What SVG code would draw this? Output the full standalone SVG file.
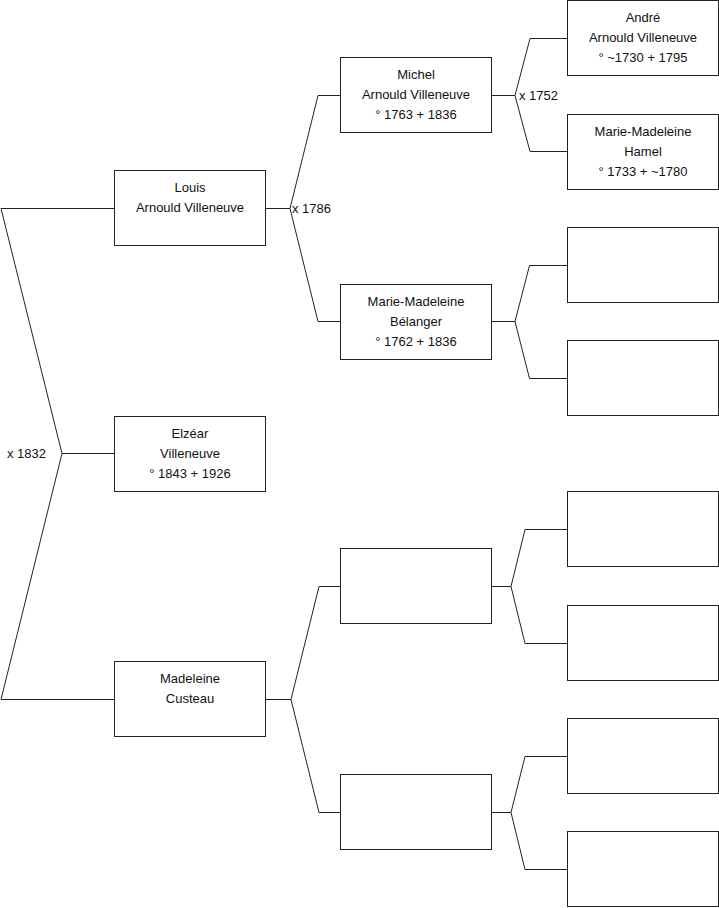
<svg xmlns="http://www.w3.org/2000/svg" width="719" height="908" viewBox="0 0 719 908">
<style>
.box{fill:#fff;stroke:#222;stroke-width:1}
.ln{fill:none;stroke:#222;stroke-width:1}
text{font-family:"Liberation Sans",Arial,sans-serif;font-size:13px;fill:#111}
.c{text-anchor:middle}
</style>
<rect width="719" height="908" fill="#fff"/>
<g id="connectors">
<polyline class="ln" points="114,208.5 1,208.5 62,453.5 1,699.5 114,699.5"/>
<line class="ln" x1="62" y1="453.5" x2="114" y2="453.5"/>
<polyline class="ln" points="265,208.5 290,208.5"/>
<polyline class="ln" points="340,95.5 318,95.5 290,208.5 318,321.5 340,321.5"/>
<polyline class="ln" points="265,699.5 291,699.5"/>
<polyline class="ln" points="340,586.5 319,586.5 291,699.5 319,812.5 340,812.5"/>
<polyline class="ln" points="491,95.5 515,95.5"/>
<polyline class="ln" points="567,38.5 530,38.5 515,95.5 530,151.5 567,151.5"/>
<polyline class="ln" points="491,321.5 515,321.5"/>
<polyline class="ln" points="567,265.5 529.5,265.5 515,321.5 529.5,378.5 567,378.5"/>
<polyline class="ln" points="491,586.5 511,586.5"/>
<polyline class="ln" points="567,529.5 525,529.5 511,586.5 525,643.5 567,643.5"/>
<polyline class="ln" points="491,812.5 511,812.5"/>
<polyline class="ln" points="567,756.5 525,756.5 511,812.5 525,869.5 567,869.5"/>
<text x="7" y="458">x 1832</text>
<text x="292" y="213">x 1786</text>
<text x="519" y="100">x 1752</text>
</g>
<g id="louis">
<rect class="box" x="114.5" y="170.5" width="151" height="75"/>
<text class="c" x="190" y="191.5">Louis</text>
<text class="c" x="190" y="211.5">Arnould Villeneuve</text>
</g>
<g id="elzear">
<rect class="box" x="114.5" y="416.5" width="151" height="75"/>
<text class="c" x="190" y="437.5">Elzéar</text>
<text class="c" x="190" y="457.5">Villeneuve</text>
<text class="c" x="190" y="477.5">° 1843 + 1926</text>
</g>
<g id="madeleine">
<rect class="box" x="114.5" y="661.5" width="151" height="75"/>
<text class="c" x="190" y="682.5">Madeleine</text>
<text class="c" x="190" y="702.5">Custeau</text>
</g>
<g id="michel">
<rect class="box" x="340.5" y="57.5" width="151" height="75"/>
<text class="c" x="416" y="78.5">Michel</text>
<text class="c" x="416" y="98.5">Arnould Villeneuve</text>
<text class="c" x="416" y="118.5">° 1763 + 1836</text>
</g>
<g id="belanger">
<rect class="box" x="340.5" y="284.5" width="151" height="75"/>
<text class="c" x="416" y="305.5">Marie-Madeleine</text>
<text class="c" x="416" y="325.5">Bélanger</text>
<text class="c" x="416" y="345.5">° 1762 + 1836</text>
</g>
<g id="empty-c2-1"><rect class="box" x="340.5" y="548.5" width="151" height="75"/></g>
<g id="empty-c2-2"><rect class="box" x="340.5" y="774.5" width="151" height="75"/></g>
<g id="andre">
<rect class="box" x="567.5" y="0.5" width="151" height="75"/>
<text class="c" x="643" y="21.5">André</text>
<text class="c" x="643" y="41.5">Arnould Villeneuve</text>
<text class="c" x="643" y="61.5">° ~1730 + 1795</text>
</g>
<g id="hamel">
<rect class="box" x="567.5" y="114.5" width="151" height="75"/>
<text class="c" x="643" y="135.5">Marie-Madeleine</text>
<text class="c" x="643" y="155.5">Hamel</text>
<text class="c" x="643" y="175.5">° 1733 + ~1780</text>
</g>
<g id="empty-c3-3"><rect class="box" x="567.5" y="227.5" width="151" height="75"/></g>
<g id="empty-c3-4"><rect class="box" x="567.5" y="340.5" width="151" height="75"/></g>
<g id="empty-c3-5"><rect class="box" x="567.5" y="491.5" width="151" height="75"/></g>
<g id="empty-c3-6"><rect class="box" x="567.5" y="605.5" width="151" height="75"/></g>
<g id="empty-c3-7"><rect class="box" x="567.5" y="718.5" width="151" height="75"/></g>
<g id="empty-c3-8"><rect class="box" x="567.5" y="831.5" width="151" height="75"/></g>
</svg>
